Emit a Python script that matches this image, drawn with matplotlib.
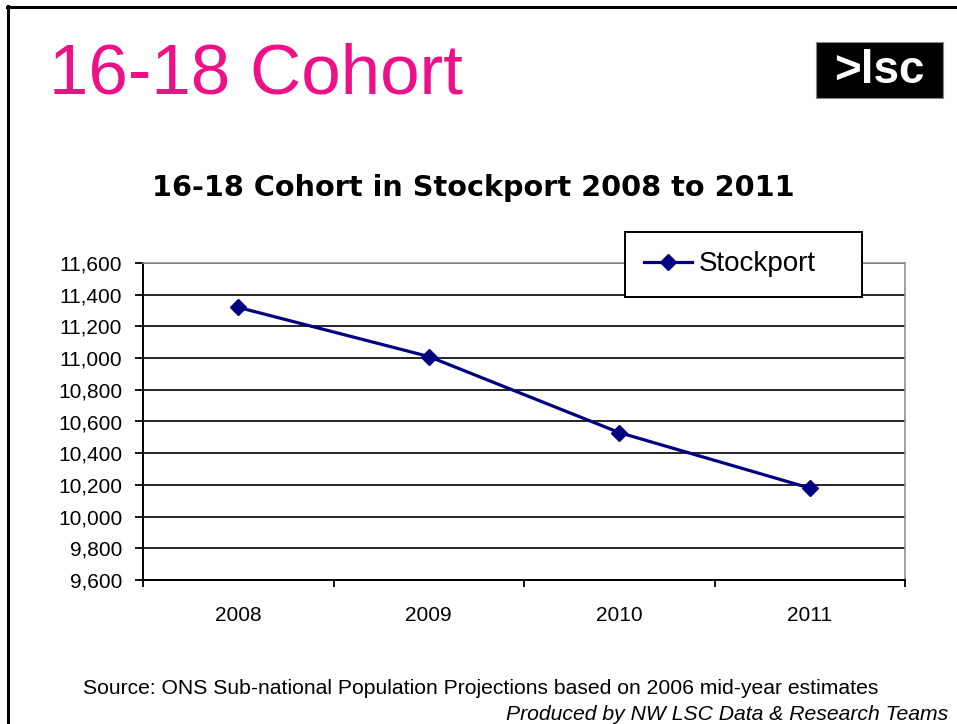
import matplotlib
matplotlib.use("Agg")
import matplotlib.pyplot as plt
from matplotlib.ticker import FuncFormatter, FixedLocator
from matplotlib.patches import Rectangle
from matplotlib.lines import Line2D

# ---- data ----
years = ["2008", "2009", "2010", "2011"]
stockport = [11320, 11010, 10530, 10180]
y_ticks = [9600, 9800, 10000, 10200, 10400, 10600, 10800, 11000, 11200, 11400, 11600]

W, H = 957, 724
fig = plt.figure(figsize=(W / 100, H / 100), dpi=100)
fig.patch.set_facecolor("white")

def fx(x):
    return x / W

def fy(y):
    return 1 - y / H

# frame lines of the slide (left and top)
fig.add_artist(Line2D([fx(8), fx(8)], [fy(6), 0], color="black", lw=2.2, transform=fig.transFigure))
fig.add_artist(Line2D([fx(7), 1], [fy(7), fy(7)], color="black", lw=2.2, transform=fig.transFigure))

# slide title
fig.text(fx(49), fy(76), "16-18 Cohort", color="#EC1089", fontsize=51,
         family="Liberation Sans", ha="left", va="center")

# logo
fig.add_artist(Rectangle((fx(816), fy(98)), fx(943 - 816), (98 - 42) / H,
                         facecolor="black", edgecolor="#888888", lw=0.8,
                         transform=fig.transFigure))
fig.text(fx(879), fy(71), ">lsc", color="white", fontsize=33, fontweight="bold",
         family="Liberation Sans", ha="center", va="center")

# chart title
fig.text(fx(473), fy(188), "16-18 Cohort in Stockport 2008 to 2011", fontsize=20.7,
         fontweight="bold", family="DejaVu Sans", ha="center", va="center")

# axes
ax = fig.add_axes([fx(143), fy(580), fx(905 - 143), (580 - 263) / H])
x = list(range(len(years)))
ax.plot(x, stockport, color="#000080", lw=2.3, marker="D", markersize=8,
        markerfacecolor="#000080", markeredgecolor="#000080", label="Stockport", zorder=3)

ax.set_xlim(-0.5, len(years) - 0.5)
ax.set_ylim(9600, 11600)
ax.yaxis.set_major_locator(FixedLocator(y_ticks))
ax.yaxis.set_major_formatter(FuncFormatter(lambda v, p: f"{v:,.0f}"))
ax.set_xticks(x)
ax.set_xticklabels(years)
ax.set_xticks([i - 0.5 for i in range(len(years) + 1)], minor=True)

ax.set_axisbelow(True)
ax.yaxis.grid(True, color="black", lw=1.2)
for s in ("top", "right"):
    ax.spines[s].set_color("#909090")
    ax.spines[s].set_linewidth(1.2)
for s in ("left", "bottom"):
    ax.spines[s].set_color("black")
    ax.spines[s].set_linewidth(1.4)

ax.tick_params(axis="y", which="major", direction="out", length=6, width=1.3,
               pad=9, labelsize=15, colors="black")
ax.tick_params(axis="x", which="major", length=0, pad=19, labelsize=15)
ax.tick_params(axis="x", which="minor", direction="out", length=5, width=1.3)
for lab in ax.get_xticklabels() + ax.get_yticklabels():
    lab.set_family("Liberation Sans")

leg = ax.legend(loc="upper left", bbox_to_anchor=(fx(625), fy(300), fx(862 - 625), (300 - 232) / H),
                bbox_transform=fig.transFigure, mode="expand", borderaxespad=0,
                fancybox=False, framealpha=1, edgecolor="black", borderpad=0.7,
                handlelength=1.7, handletextpad=0.25,
                prop={"family": "Liberation Sans", "size": 20})
leg.get_frame().set_linewidth(1.4)

# footnotes
fig.text(fx(481), fy(689), "Source: ONS Sub-national Population Projections based on 2006 mid-year estimates",
         fontsize=15.2, family="Liberation Sans", ha="center", va="center")
fig.text(fx(948), fy(714), "Produced by NW LSC Data & Research Teams", fontsize=15.2,
         style="italic", family="Liberation Sans", ha="right", va="center")

fig.savefig("out.png", dpi=100)
